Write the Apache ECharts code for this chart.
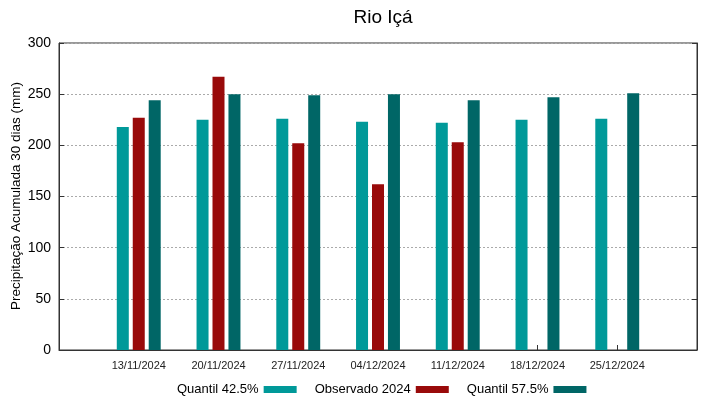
<!DOCTYPE html>
<html>
<head>
<meta charset="utf-8">
<script src="https://cdn.jsdelivr.net/npm/echarts@6/dist/echarts.min.js"></script>
<style>
  html, body { margin: 0; padding: 0; background: #fff; }
  #chart { width: 719px; height: 399px; }
</style>
</head>
<body>
<div id="chart"></div>
<script>
// blank slots at both ends keep the first/last week one step in from the frame
var weeks = ['', '13/11/2024', '20/11/2024', '27/11/2024', '04/12/2024', '11/12/2024', '18/12/2024', '25/12/2024', ''];
var quantil425 = [null, 218, 225, 226, 223, 222, 225, 226, null];
var observado2024 = [null, 227, 267, 202, 162, 203, null, null, null];
var quantil575 = [null, 244, 250, 249, 250, 244, 247, 251, null];
var yTicks = [0, 50, 100, 150, 200, 250, 300];

var font = 'Liberation Sans, Arial, sans-serif';

var chart = echarts.init(document.getElementById('chart'));

function barSeries(name, data, color) {
    return {
        name: name,
        type: 'bar',
        data: data,
        barWidth: 12,
        barGap: '33%',
        itemStyle: {color: color},
        emphasis: {disabled: true}
    };
}

chart.setOption({
    animation: false,
    textStyle: {fontFamily: font},
    title: {
        text: 'Rio Içá',
        left: 378,
        textAlign: 'center',
        top: 3,
        textStyle: {fontSize: 19, fontWeight: 'normal', color: '#000', fontFamily: font}
    },
    // y axis title drawn here, the axis name kept getting pushed to the edge
    graphic: [{
        type: 'text',
        x: 16,
        y: 196,
        rotation: Math.PI / 2,
        silent: true,
        style: {
            text: 'Precipitação Acumulada 30 dias (mm)',
            fontSize: 13.5,
            fontFamily: font,
            fill: '#000',
            align: 'center',
            verticalAlign: 'middle'
        }
    }],
    grid: {
        left: 59, right: 22, top: 43, bottom: 49,
        outerBoundsMode: 'none',
        containLabel: false,
        show: true, borderColor: '#333', borderWidth: 1
    },
    legend: {
        left: 172,
        top: 378,
        align: 'right',
        icon: 'rect',
        itemWidth: 33,
        itemHeight: 7,
        itemGap: 18,
        textStyle: {fontSize: 13, color: '#000', fontFamily: font},
        data: ['Quantil 42.5%', 'Observado 2024', 'Quantil 57.5%']
    },
    xAxis: {
        type: 'category',
        data: weeks,
        boundaryGap: false,
        axisLine: {lineStyle: {color: '#333'}},
        axisTick: {inside: true, length: 5, lineStyle: {color: '#333'}},
        axisLabel: {fontSize: 11, color: '#222', margin: 10, interval: 0},
        splitLine: {show: false}
    },
    yAxis: [{
        type: 'value',
        min: yTicks[0],
        max: yTicks[yTicks.length - 1],
        interval: 50,
        axisLine: {show: true, lineStyle: {color: '#333'}},
        axisTick: {show: true, inside: true, length: 5, lineStyle: {color: '#333'}},
        axisLabel: {fontSize: 14, color: '#000', margin: 8},
        splitLine: {lineStyle: {type: [2, 2], color: '#aaa'}}
    }, {
        type: 'value',
        position: 'right',
        min: yTicks[0],
        max: yTicks[yTicks.length - 1],
        interval: 50,
        axisLine: {show: true, lineStyle: {color: '#333'}},
        axisTick: {show: true, inside: true, length: 5, lineStyle: {color: '#333'}},
        axisLabel: {show: false},
        splitLine: {show: false}
    }],
    series: [
        barSeries('Quantil 42.5%', quantil425, '#009999'),
        barSeries('Observado 2024', observado2024, '#990a0a'),
        barSeries('Quantil 57.5%', quantil575, '#006666')
    ]
});
</script>
</body>
</html>
